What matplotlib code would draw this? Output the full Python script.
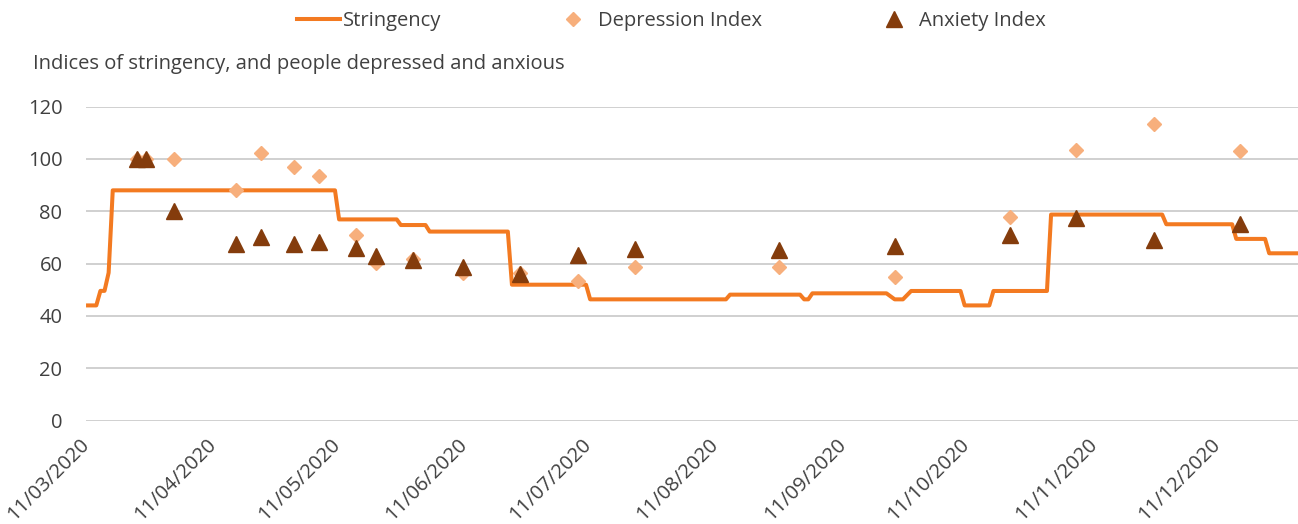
import numpy as np
import pandas as pd
import matplotlib
matplotlib.use("Agg")
from matplotlib import pyplot as plt
import matplotlib.dates as mdates

# Stringency index (level changes, one point at each end of a level)
str_dates = ['2020-03-11', '2020-03-13', '2020-03-14', '2020-03-15', '2020-03-16',
             '2020-03-17', '2020-05-10', '2020-05-11', '2020-05-25', '2020-05-26',
             '2020-06-01', '2020-06-02', '2020-06-21', '2020-06-22', '2020-07-10',
             '2020-07-11', '2020-08-13', '2020-08-14', '2020-08-31', '2020-09-01',
             '2020-09-02', '2020-09-03', '2020-09-21', '2020-09-23', '2020-09-25',
             '2020-09-27', '2020-10-09', '2020-10-10', '2020-10-16', '2020-10-17',
             '2020-10-30', '2020-10-31', '2020-11-27', '2020-11-28', '2020-12-14',
             '2020-12-15', '2020-12-22', '2020-12-23', '2020-12-30']
str_values = [43.98, 43.98, 49.54, 49.54, 56.48,
              87.96, 87.96, 76.85, 76.85, 74.7,
              74.7, 72.2, 72.2, 51.9, 51.9,
              46.3, 46.3, 48.1, 48.1, 46.3,
              46.3, 48.6, 48.6, 46.3, 46.3,
              49.5, 49.5, 43.98, 43.98, 49.5,
              49.5, 78.7, 78.7, 75.0, 75.0,
              69.4, 69.4, 63.9, 63.9]

# Survey waves
survey_dates = ['2020-03-23', '2020-03-25', '2020-04-01', '2020-04-16', '2020-04-22',
                '2020-04-30', '2020-05-06', '2020-05-15', '2020-05-20', '2020-05-29',
                '2020-06-10', '2020-06-24', '2020-07-08', '2020-07-22', '2020-08-26',
                '2020-09-23', '2020-10-21', '2020-11-06', '2020-11-25', '2020-12-16']
depression = [100, 100, 100, 88.1, 102.3,
              96.8, 93.4, 70.9, 60.3, 61.6,
              56.5, 56.5, 53.4, 58.8, 58.8,
              54.7, 77.9, 103.4, 113.3, 103.0]
anxiety = [100, 100, 80.0, 67.4, 70.2,
           67.4, 68.3, 65.8, 63.0, 61.3,
           58.5, 56.0, 63.2, 65.5, 65.2,
           66.8, 70.9, 77.3, 69.0, 75.1]

plt.rcParams['font.family'] = ['Open Sans', 'DejaVu Sans']
txt_col = '#404040'
fs = 14.5

half_day = pd.Timedelta(hours=12)
x_str = pd.to_datetime(str_dates) + half_day
x_srv = pd.to_datetime(survey_dates) + half_day

fig = plt.figure(figsize=(12.98, 5.24), dpi=100)
ax = fig.add_axes([86 / 1298, 1 - 420.5 / 524, 1212 / 1298, 314 / 524])

ax.plot(x_str, str_values, color='#F37A21', lw=2.9, label='Stringency',
        solid_joinstyle='round', zorder=3)
ax.plot(x_srv, depression, 'D', color='#F7AF7C', ms=7, ls='none',
        label='Depression Index', zorder=4)
ax.plot(x_srv, anxiety, '^', color='#843C0C', ms=11, ls='none',
        label='Anxiety Index', zorder=5)

# Eje X
ax.set_xlim(pd.Timestamp('2020-03-11'), pd.Timestamp('2020-12-30 12:00'))
ax.xaxis.set_major_locator(mdates.MonthLocator(bymonthday=11))
ax.xaxis.set_major_formatter(mdates.DateFormatter('%d/%m/%Y'))
for lab in ax.get_xticklabels():
    lab.set_rotation(45)
    lab.set_ha('right')
    lab.set_va('center')
    lab.set_rotation_mode('anchor')
# Eje Y
ax.set_ylim(0, 120)
ax.set_yticks(range(0, 121, 20))
ax.grid(axis='y', color='#c8c8c8', lw=1.2)
ax.set_axisbelow(True)
ax.tick_params(axis='both', length=0, labelsize=fs, colors=txt_col)
ax.tick_params(axis='y', pad=17)
ax.tick_params(axis='x', pad=15)
for s in ax.spines.values():
    s.set_visible(False)

fig.text(33 / 1298, 1 - 64 / 524, 'Indices of stringency, and people depressed and anxious',
         fontsize=fs, color=txt_col, va='center', ha='left')

fig.legend(loc='center', bbox_to_anchor=(0.517, 1 - 21 / 524), ncol=3, frameon=False,
           fontsize=fs, labelcolor=txt_col, handlelength=2.14, handletextpad=0.15,
           columnspacing=5.5)

fig.savefig('out.png', dpi=100)
